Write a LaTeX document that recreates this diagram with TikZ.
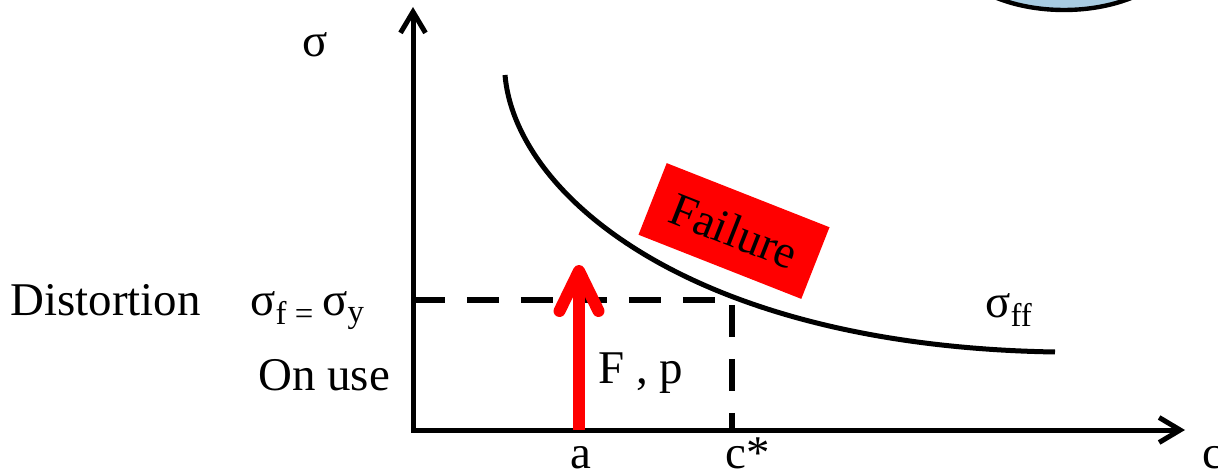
\documentclass[tikz,border=0pt]{standalone}
\usepackage{fontspec}
\setmainfont{Liberation Serif}
\usetikzlibrary{arrows.meta}

\begin{document}
\begin{tikzpicture}[x=0.02cm,y=0.02cm,font=\fontsize{26.7}{30}\selectfont]
  \definecolor{ink}{RGB}{0,0,0}
  \definecolor{warn}{RGB}{255,0,0}
  \definecolor{bubble}{RGB}{168,204,226}
  \tikzset{
    axis/.style={ink, line width=0.1cm, line join=miter,
      {Straight Barb[length=0.42cm,width=0.5cm]}-{Straight Barb[length=0.42cm,width=0.5cm]}},
    guide/.style={ink, line width=0.12cm, dash pattern=on 0.64cm off 0.44cm},
    load/.style={warn, line width=0.24cm, -{Straight Barb[length=0.8cm,width=0.78cm,round]}},
    lbl/.style={ink, inner sep=0, anchor=base west}
  }
  \path[use as bounding box, clip] (0,0) rectangle (1218,474);

  % part of the bubble above the plot
  \draw[ink, line width=2.5pt, fill=bubble] (1064,534) ellipse [x radius=2.4cm, y radius=1.4cm];

  % axes
  \coordinate (origin) at (413,44);
  \coordinate (ytop) at (413,467);
  \coordinate (xend) at (1185,44);
  \draw[axis] (ytop) -- (origin) -- (xend);

  % yield level and critical length
  \coordinate (yieldL) at (413,174);
  \coordinate (yieldR) at (732,174);
  \coordinate (cfoot) at (732,44);
  \draw[guide] (yieldL) -- (yieldR) -- (cfoot);

  % failure curve
  \coordinate (ffstart) at (505,399);
  \coordinate (ffend) at (1055,122);
  \draw[ink, line width=0.1cm] (ffstart) .. controls (515,280) and (690,128) .. (ffend);

  % applied load
  \coordinate (afoot) at (579,44);
  \coordinate (atip) at (579,209);
  \draw[load] (afoot) -- (atip);

  \node[fill=warn, minimum width=3.5cm, minimum height=1.54cm, rotate=-21.5,
        text=ink] (fail) at (734,243) {Failure};

  % labels
  \node[lbl, anchor=base] (sig) at (315,417) {σ};
  \node[lbl] (dist) at (10,158) {Distortion};
  \node[lbl] (yield) at (250,158) {σ\textsubscript{f = }σ\textsubscript{y}};
  \node[lbl] (use) at (258,84) {On use};
  \node[lbl] (fp) at (598,91) {F , p};
  \node[lbl] (sff) at (985,156) {σ\textsubscript{ff}};
  \foreach \name/\txt/\x in {alab/a/570, clab/c*/725, cax/c/1202} {
    \node[lbl] (\name) at (\x,6) {\txt};
  }
\end{tikzpicture}
\end{document}
